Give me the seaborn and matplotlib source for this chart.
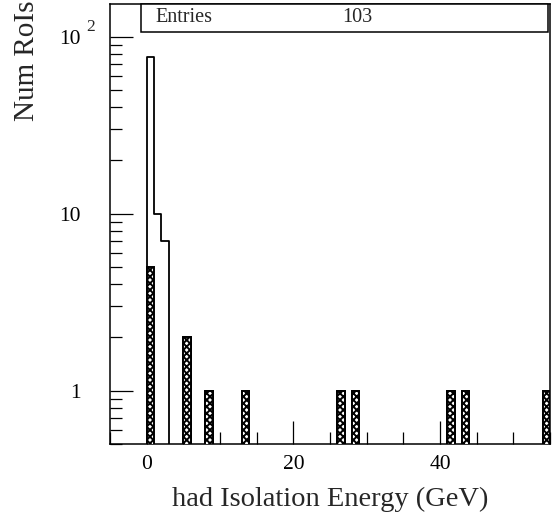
import numpy as np
import pandas as pd
import matplotlib
matplotlib.use("Agg")
import matplotlib.pyplot as plt
import matplotlib.ticker as mticker
from matplotlib.patches import Rectangle
import seaborn as sns

# ---- data (bin lower edges, width 1 GeV) ----
all_bins = [0, 1, 2, 5, 8, 13, 26, 28, 41, 43, 54]
all_counts = [77, 10, 7, 2, 1, 1, 1, 1, 1, 1, 1]
sel_bins = [0, 5, 8, 13, 26, 28, 41, 43, 54]
sel_counts = [5, 2, 1, 1, 1, 1, 1, 1, 1]
entries_label = "Entries"
entries_value = "103"
x_label = "had Isolation Energy (GeV)"
y_label = "Num RoIs"

bin_edges = list(range(-5, 56))

df_all = pd.DataFrame({"E": np.array(all_bins) + 0.5, "w": all_counts})
df_sel = pd.DataFrame({"E": np.array(sel_bins) + 0.5, "w": sel_counts})

sns.set_style("ticks")
plt.rcParams["font.family"] = ["Liberation Serif", "DejaVu Serif"]
plt.rcParams["hatch.linewidth"] = 1.4

fig = plt.figure(figsize=(5.54, 5.23), dpi=100)
W, H = 554, 523
ax = fig.add_axes([110 / W, (H - 444) / H, 440 / W, 440 / H])

sns.histplot(data=df_all, x="E", weights="w", bins=bin_edges, element="step",
             fill=False, color="black", linewidth=1.3, ax=ax, zorder=3)

n_before = len(ax.patches)
sns.histplot(data=df_sel, x="E", weights="w", bins=bin_edges, element="bars",
             fill=True, ax=ax, zorder=4)
for p in list(ax.patches[n_before:]):
    if p.get_height() <= 0:
        p.remove()
        continue
    p.set_facecolor("white")
    p.set_edgecolor("black")
    p.set_hatch("xxxxx")
    p.set_linewidth(1.4)
    p.set_alpha(1)

ax.set_yscale("log")
ax.set_xlim(-5, 55)
ax.set_ylim(0.5, 153)

# ticks
ax.xaxis.set_major_locator(mticker.FixedLocator([0, 20, 40]))
ax.xaxis.set_minor_locator(mticker.MultipleLocator(5))
ax.yaxis.set_major_locator(mticker.FixedLocator([1, 10, 100]))
ax.yaxis.set_major_formatter(mticker.FixedFormatter(["1", "10", "10"]))
ax.yaxis.set_minor_locator(mticker.LogLocator(base=10, subs=np.arange(2, 10)))
ax.yaxis.set_minor_formatter(mticker.NullFormatter())
ax.xaxis.set_major_formatter(mticker.FormatStrFormatter("%d"))

ax.tick_params(axis="both", which="both", direction="in", top=False, right=False,
               colors="black", width=0.9)
ax.tick_params(axis="both", which="major", length=16.5, labelsize=15.5)
ax.tick_params(axis="both", which="minor", length=8.5)
ax.tick_params(axis="x", which="major", pad=8)
ax.tick_params(axis="y", which="major", pad=21)

ax.annotate("2", xy=(0, 100), xycoords=("axes fraction", "data"),
            xytext=(-17, 7.0), textcoords="offset points",
            ha="left", va="center", fontsize=12.5)

for s in ax.spines.values():
    s.set_linewidth(1.1)
    s.set_color("black")

ax.set_xlabel(x_label, fontsize=20.5)
ax.set_ylabel(y_label, fontsize=21)
ax.xaxis.set_label_coords(0.5, (444 - 499) / 440)
ax.xaxis.label.set_va("center")
ax.yaxis.set_label_coords((27 - 110) / 440, 1 - (61 - 4) / 440)
ax.yaxis.label.set_va("center")

# stat box
box = Rectangle((31 / 440, 1 - 28 / 440), (548 - 141) / 440, 28 / 440,
                transform=ax.transAxes, facecolor="white", edgecolor="black",
                linewidth=1.1, zorder=10, clip_on=False)
ax.add_patch(box)
ax.text(45 / 440, 1 - 14 / 440, entries_label, transform=ax.transAxes,
        ha="left", va="center", fontsize=14.5, zorder=11)
ax.text((342.7 - 110) / 440, 1 - 14 / 440, entries_value, transform=ax.transAxes,
        ha="left", va="center", fontsize=14.5, zorder=11)

fig.savefig("out.png", dpi=100, facecolor="white")
